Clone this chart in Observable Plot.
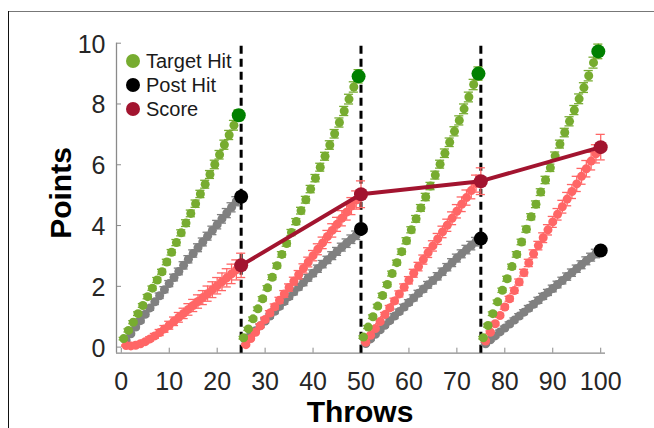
<!DOCTYPE html>
<html><head><meta charset="utf-8">
<script src="https://cdn.jsdelivr.net/npm/d3@7"></script>
<script src="https://cdn.jsdelivr.net/npm/@observablehq/plot@0.6"></script>
<style>
html,body{margin:0;padding:0;background:#fff;}
#wrap{position:relative;width:654px;height:428px;overflow:hidden;font-family:"Liberation Sans",Arial,Helvetica,sans-serif;color:#1a1a1a;}
#wrap svg{position:absolute;left:0;top:0;}
.frameTop{position:absolute;left:9px;top:11px;width:645px;height:0;border-top:1.5px solid #777;}
.frameLeft{position:absolute;left:8px;top:11px;width:0;height:417px;border-left:1.5px solid #111;}
.lgItem{position:absolute;left:126px;height:20px;line-height:20px;font-size:20px;white-space:nowrap;}
.lgDot{display:inline-block;width:14px;height:14px;border-radius:50%;vertical-align:middle;margin-right:6px;position:relative;top:-2px;}
.ylab{position:absolute;left:-39px;top:178px;width:200px;height:30px;line-height:30px;font-size:30px;font-weight:bold;text-align:center;transform:rotate(-90deg);color:#000;}
.xlab{position:absolute;left:260px;top:397px;width:200px;height:30px;line-height:30px;font-size:30px;font-weight:bold;text-align:center;color:#000;}
</style></head>
<body><div id="wrap"></div>
<script>
// ---- data ----
const blockSize = 25;
const blockEnds = [25, 50, 75, 100];
const xTicks = [0, 10, 20, 30, 40, 50, 60, 70, 80, 90, 100];
const yTicks = [0, 2, 4, 6, 8, 10];
const seriesNames = ["Target Hit", "Post Hit", "Score"];

const targetHit = [
  0.28,0.55,0.82,1.10,1.37,1.66,1.94,2.21,2.48,2.80,3.12,3.44,3.76,4.08,4.40,4.72,5.04,5.36,5.68,6.01,6.33,6.66,6.98,7.30,
  0.31,0.60,0.93,1.26,1.59,1.95,2.30,2.68,3.05,3.41,3.77,4.13,4.49,4.85,5.20,5.56,5.92,6.28,6.65,7.02,7.39,7.77,8.16,8.56,
  0.33,0.66,1.00,1.35,1.70,2.06,2.42,2.78,3.14,3.50,3.86,4.22,4.58,4.94,5.30,5.66,6.02,6.38,6.74,7.10,7.46,7.84,8.23,8.64,
  0.31,0.71,1.10,1.49,1.87,2.25,2.65,3.05,3.46,3.88,4.29,4.70,5.10,5.50,5.90,6.29,6.68,7.06,7.43,7.80,8.17,8.54,8.93,9.36
];
const targetHitErr = [
  0.04,0.05,0.05,0.06,0.06,0.07,0.07,0.08,0.08,0.09,0.09,0.10,0.10,0.11,0.11,0.12,0.12,0.13,0.13,0.14,0.14,0.15,0.15,0.16,
  0.04,0.05,0.06,0.06,0.07,0.07,0.08,0.08,0.09,0.09,0.10,0.10,0.11,0.11,0.12,0.12,0.13,0.13,0.14,0.14,0.15,0.15,0.16,0.17,
  0.04,0.05,0.06,0.06,0.07,0.07,0.08,0.08,0.09,0.10,0.10,0.11,0.11,0.12,0.12,0.13,0.13,0.14,0.14,0.15,0.15,0.16,0.16,0.17,
  0.04,0.05,0.06,0.06,0.07,0.08,0.08,0.09,0.09,0.10,0.10,0.11,0.11,0.12,0.12,0.13,0.13,0.14,0.15,0.15,0.16,0.16,0.17,0.18
];
const targetHitEnd = [7.63, 8.91, 9.00, 9.73];
const targetHitEndErr = [0.18, 0.22, 0.22, 0.24];

const postHit = [
  0.22,0.44,0.66,0.87,1.08,1.29,1.49,1.69,1.89,2.09,2.29,2.49,2.69,2.89,3.08,3.27,3.46,3.65,3.84,4.03,4.22,4.41,4.60,4.80,
  0.22,0.38,0.54,0.70,0.86,1.02,1.18,1.34,1.50,1.66,1.82,1.98,2.13,2.28,2.43,2.58,2.73,2.87,3.01,3.15,3.29,3.42,3.55,3.68,
  0.12,0.27,0.42,0.57,0.72,0.87,1.02,1.17,1.32,1.47,1.62,1.77,1.91,2.05,2.19,2.33,2.48,2.63,2.78,2.93,3.07,3.21,3.34,3.47,
  0.11,0.24,0.37,0.50,0.63,0.76,0.89,1.02,1.15,1.28,1.41,1.54,1.67,1.80,1.93,2.06,2.19,2.32,2.45,2.58,2.71,2.84,2.96,3.08
];
const postHitErr = [
  0.04,0.05,0.06,0.07,0.07,0.08,0.09,0.09,0.10,0.10,0.11,0.11,0.12,0.12,0.12,0.13,0.13,0.13,0.14,0.14,0.14,0.15,0.15,0.15,
  0.04,0.05,0.05,0.06,0.07,0.07,0.08,0.08,0.09,0.09,0.10,0.10,0.11,0.11,0.11,0.12,0.12,0.12,0.13,0.13,0.13,0.14,0.14,0.14,
  0.04,0.05,0.05,0.06,0.07,0.07,0.08,0.08,0.09,0.09,0.10,0.10,0.10,0.11,0.11,0.12,0.12,0.12,0.13,0.13,0.13,0.14,0.14,0.14,
  0.04,0.05,0.05,0.06,0.06,0.07,0.07,0.08,0.08,0.09,0.09,0.10,0.10,0.10,0.11,0.11,0.11,0.12,0.12,0.12,0.13,0.13,0.13,0.14
];
const postHitEnd = [4.95, 3.89, 3.57, 3.18];
const postHitEndErr = [0.14, 0.12, 0.12, 0.10];

const score = [
  0.05,0.04,0.06,0.11,0.18,0.27,0.37,0.48,0.60,0.72,0.85,0.98,1.11,1.24,1.37,1.50,1.63,1.76,1.89,2.02,2.15,2.28,2.41,2.54,
  0.08,0.28,0.49,0.70,0.91,1.12,1.33,1.54,1.75,1.96,2.17,2.38,2.59,2.80,3.01,3.22,3.43,3.64,3.84,4.04,4.24,4.44,4.64,4.84,
  0.16,0.39,0.61,0.84,1.07,1.29,1.52,1.75,1.97,2.20,2.43,2.65,2.88,3.11,3.33,3.56,3.79,4.01,4.24,4.47,4.70,4.92,5.15,5.38,
  0.20,0.49,0.77,1.04,1.32,1.59,1.86,2.14,2.45,2.77,3.07,3.34,3.60,3.86,4.12,4.37,4.62,4.87,5.12,5.37,5.62,5.87,6.12,6.36
];
const scoreErr = [
  0.02,0.02,0.03,0.04,0.05,0.07,0.08,0.10,0.11,0.13,0.14,0.16,0.17,0.19,0.20,0.22,0.23,0.25,0.26,0.27,0.29,0.30,0.32,0.33,
  0.03,0.04,0.05,0.06,0.07,0.08,0.09,0.10,0.11,0.12,0.13,0.14,0.15,0.16,0.17,0.18,0.19,0.20,0.22,0.23,0.25,0.26,0.28,0.30,
  0.03,0.04,0.05,0.06,0.07,0.08,0.09,0.10,0.11,0.12,0.13,0.14,0.15,0.16,0.17,0.18,0.19,0.20,0.21,0.22,0.24,0.25,0.27,0.28,
  0.03,0.04,0.05,0.06,0.07,0.08,0.09,0.10,0.11,0.12,0.13,0.14,0.16,0.17,0.18,0.19,0.21,0.22,0.23,0.25,0.26,0.27,0.29,0.30
];
const scoreEnd = [2.69, 5.03, 5.46, 6.58];
const scoreEndErr = [0.40, 0.44, 0.44, 0.42];

// ---- build tables ----
const perBlock = blockSize - 1;
const smallRows = (vals, errs) => vals.map((v, i) => ({t: Math.floor(i / perBlock) * blockSize + (i % perBlock) + 1, v, e: errs[i]}));
const endRows = (vals, errs) => vals.map((v, i) => ({t: blockEnds[i], v, e: errs[i]}));

const greenRows = smallRows(targetHit, targetHitErr);
const grayRows = smallRows(postHit, postHitErr);
const redRows = smallRows(score, scoreErr);
const greenEnd = endRows(targetHitEnd, targetHitEndErr);
const grayEnd = endRows(postHitEnd, postHitEndErr);
const redEnd = endRows(scoreEnd, scoreEndErr);

const C = {green: "#77ac30", darkGreen: "#008000", gray: "#808080", black: "#000000", lightRed: "#ff6666", darkRed: "#a2142f", axis: "#8a8a8a", text: "#262626"};
const capHalf = 0.95;

function errorBars(rows, color, off, sw) {
  const x = d => d.t + off;
  return [
    Plot.ruleX(rows, {x, y1: d => d.v - d.e, y2: d => d.v + d.e, stroke: color, strokeWidth: sw}),
    Plot.ruleY(rows, {y: d => d.v - d.e, x1: d => d.t + off - capHalf, x2: d => d.t + off + capHalf, stroke: color, strokeWidth: sw}),
    Plot.ruleY(rows, {y: d => d.v + d.e, x1: d => d.t + off - capHalf, x2: d => d.t + off + capHalf, stroke: color, strokeWidth: sw})
  ];
}
const gOff = -0.5;

const chart = Plot.plot({
  width: 654, height: 428,
  marginLeft: 116, marginRight: 49, marginTop: 42.7, marginBottom: 75.3,
  x: {domain: [-1, 101]},
  y: {domain: [-0.2, 10]},
  style: {fontFamily: '"Liberation Sans", Arial, Helvetica, sans-serif', fontSize: "25px", background: "transparent", overflow: "visible"},
  marks: [
    // axes
    Plot.ruleY([-0.2], {x1: -1, x2: 101, stroke: C.axis, strokeWidth: 1.3}),
    Plot.ruleX([-1], {y1: -0.2, y2: 10, stroke: C.axis, strokeWidth: 1.3}),
    Plot.ruleX(xTicks, {y1: -0.2, y2: -0.2, insetTop: -5, stroke: C.axis, strokeWidth: 1}),
    Plot.ruleY(yTicks, {x1: -1, x2: -1, insetRight: -5, stroke: C.axis, strokeWidth: 1}),
    Plot.axisX({ticks: xTicks, tickSize: 0, tickPadding: 19, label: null, fill: C.text}),
    Plot.axisY({ticks: yTicks, tickSize: 0, tickPadding: 11, label: null, fill: C.text, dy: 1.5}),
    // block separators
    Plot.ruleX(blockEnds.slice(0, 3), {y1: -0.2, y2: 10, stroke: "#000", strokeWidth: 3, strokeDasharray: "8,5"}),
    // Post Hit
    ...errorBars(grayRows, C.gray, 0, 1.3),
    Plot.dot(grayRows, {x: "t", y: "v", r: 4.5, fill: C.gray}),
    // Score
    ...errorBars(redRows, C.lightRed, 0, 1.3),
    Plot.dot(redRows, {x: "t", y: "v", r: 4.5, fill: C.lightRed}),
    // Target Hit
    ...errorBars(greenRows, C.green, gOff, 1.3),
    Plot.dot(greenRows, {x: d => d.t + gOff, y: "v", r: 4.5, fill: C.green}),
    // block-end summaries
    Plot.line(redEnd, {x: "t", y: "v", stroke: C.darkRed, strokeWidth: 4}),
    ...errorBars(greenEnd, C.green, gOff, 1.3),
    Plot.dot(greenEnd, {x: d => d.t + gOff, y: "v", r: 7, fill: C.darkGreen}),
    ...errorBars(grayEnd, C.black, 0, 1.3),
    Plot.dot(grayEnd, {x: "t", y: "v", r: 7, fill: C.black}),
    ...errorBars(redEnd, C.lightRed, 0, 1.3),
    Plot.dot(redEnd, {x: "t", y: "v", r: 7, fill: C.darkRed})
  ]
});

const wrap = document.getElementById("wrap");
wrap.appendChild(chart);

// frame
const ft = document.createElement("div"); ft.className = "frameTop"; wrap.appendChild(ft);
const fl = document.createElement("div"); fl.className = "frameLeft"; wrap.appendChild(fl);

// legend
const legendColors = [C.green, C.black, C.darkRed];
seriesNames.forEach((name, i) => {
  const item = document.createElement("div");
  item.className = "lgItem";
  item.style.top = (51 + i * 24) + "px";
  const dot = document.createElement("span");
  dot.className = "lgDot";
  dot.style.background = legendColors[i];
  item.appendChild(dot);
  item.appendChild(document.createTextNode(name));
  wrap.appendChild(item);
});

// axis titles
const yl = document.createElement("div"); yl.className = "ylab"; yl.textContent = "Points"; wrap.appendChild(yl);
const xl = document.createElement("div"); xl.className = "xlab"; xl.textContent = "Throws"; wrap.appendChild(xl);
</script>
</body></html>
